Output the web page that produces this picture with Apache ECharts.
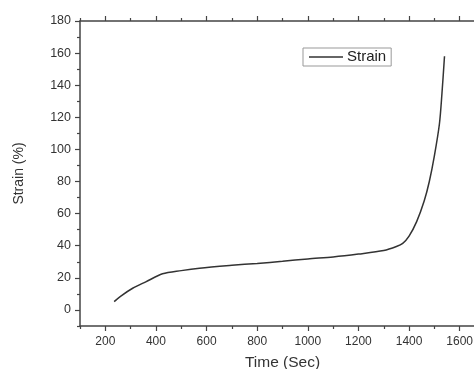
<!DOCTYPE html>
<html>
<head>
<meta charset="utf-8">
<script src="https://cdn.jsdelivr.net/npm/echarts@6/dist/echarts.min.js"></script>
<style>
  html, body { margin: 0; padding: 0; background: #fff; }
  #chart { width: 474px; height: 369px; }
</style>
</head>
<body>
<div id="chart"></div>
<script>
// values
const timeSec = [235, 260, 308, 360, 426, 500, 572, 700, 800, 900, 1000, 1100, 1200, 1300, 1350, 1375, 1400, 1430, 1460, 1480, 1500, 1520, 1530, 1540];
const strain = [5.2, 8.5, 13.5, 17.5, 22.5, 24.5, 26, 27.8, 29, 30.3, 31.8, 33, 34.8, 37, 39.5, 41.5, 46, 55, 68, 80, 96, 116, 135, 158];
const xMajor = [200, 400, 600, 800, 1000, 1200, 1400, 1600];
const xMinor = [100, 300, 500, 700, 900, 1100, 1300, 1500, 1700];
const yMajor = [0, 20, 40, 60, 80, 100, 120, 140, 160, 180];
const yMinor = [-10, 10, 30, 50, 70, 90, 110, 130, 150, 170];

const chart = echarts.init(document.getElementById('chart'), null, { renderer: 'canvas' });

const axisColor = '#444';
const font = 'Liberation Sans, Arial, sans-serif';

function xAx(pos, ticks, len, withLine, withLabel) {
  return {
    type: 'value', position: pos, min: 100, max: 1700,
    axisLine: { show: withLine, onZero: false, lineStyle: { color: axisColor, width: 1.5 } },
    axisTick: { show: true, customValues: ticks, length: len, lineStyle: { color: axisColor, width: 1.2 } },
    axisLabel: withLabel
      ? { show: true, customValues: ticks, color: '#333', fontSize: 12, fontFamily: font, margin: 10,
          formatter: v => String(v) }
      : { show: false },
    splitLine: { show: false },
    name: withLabel ? 'Time (Sec)' : '',
    nameLocation: 'middle', nameGap: 29,
    nameTextStyle: { color: '#333', fontSize: 15.5, fontFamily: font }
  };
}

function yAx(ticks, len, withLine, withLabel) {
  return {
    type: 'value', position: 'left', min: -10, max: 180,
    axisLine: { show: withLine, onZero: false, lineStyle: { color: axisColor, width: 1.5 } },
    axisTick: { show: true, customValues: ticks, length: len, lineStyle: { color: axisColor, width: 1.2 } },
    axisLabel: withLabel
      ? { show: true, customValues: ticks, color: '#333', fontSize: 12.5, fontFamily: font, margin: 9 }
      : { show: false },
    splitLine: { show: false },
    name: withLabel ? 'Strain (%)' : '',
    nameLocation: 'middle', nameGap: 54,
    nameTextStyle: { color: '#333', fontSize: 14, fontFamily: font }
  };
}

const option = {
  animation: false,
  grid: { left: 80, right: -11, top: 21, bottom: 43, outerBoundsMode: 'none', containLabel: false },
  legend: {
    left: 303, top: 48,
    padding: [1, 5, 1, 6],
    itemWidth: 34, itemHeight: 1.5, itemGap: 5,
    icon: 'rect',
    borderColor: '#999', borderWidth: 1,
    textStyle: { color: '#222', fontSize: 15, fontFamily: font, padding: [0, 0, 0, -1], lineHeight: 16 },
    data: ['Strain']
  },
  xAxis: [
    xAx('bottom', xMajor, 5, true, true),
    xAx('bottom', xMinor, 3, false, false),
    xAx('top', xMajor, 5, true, false),
    xAx('top', xMinor, 3, false, false)
  ],
  yAxis: [
    yAx(yMajor, 5, true, true),
    yAx(yMinor, 3, false, false)
  ],
  series: [{
    name: 'Strain',
    type: 'line',
    xAxisIndex: 0, yAxisIndex: 0,
    data: timeSec.map((t, i) => [t, strain[i]]),
    smooth: 0.3,
    symbol: 'none',
    showSymbol: false,
    lineStyle: { color: '#333', width: 1.5 },
    itemStyle: { color: '#333' }
  }]
};

chart.setOption(option);
</script>
</body>
</html>
